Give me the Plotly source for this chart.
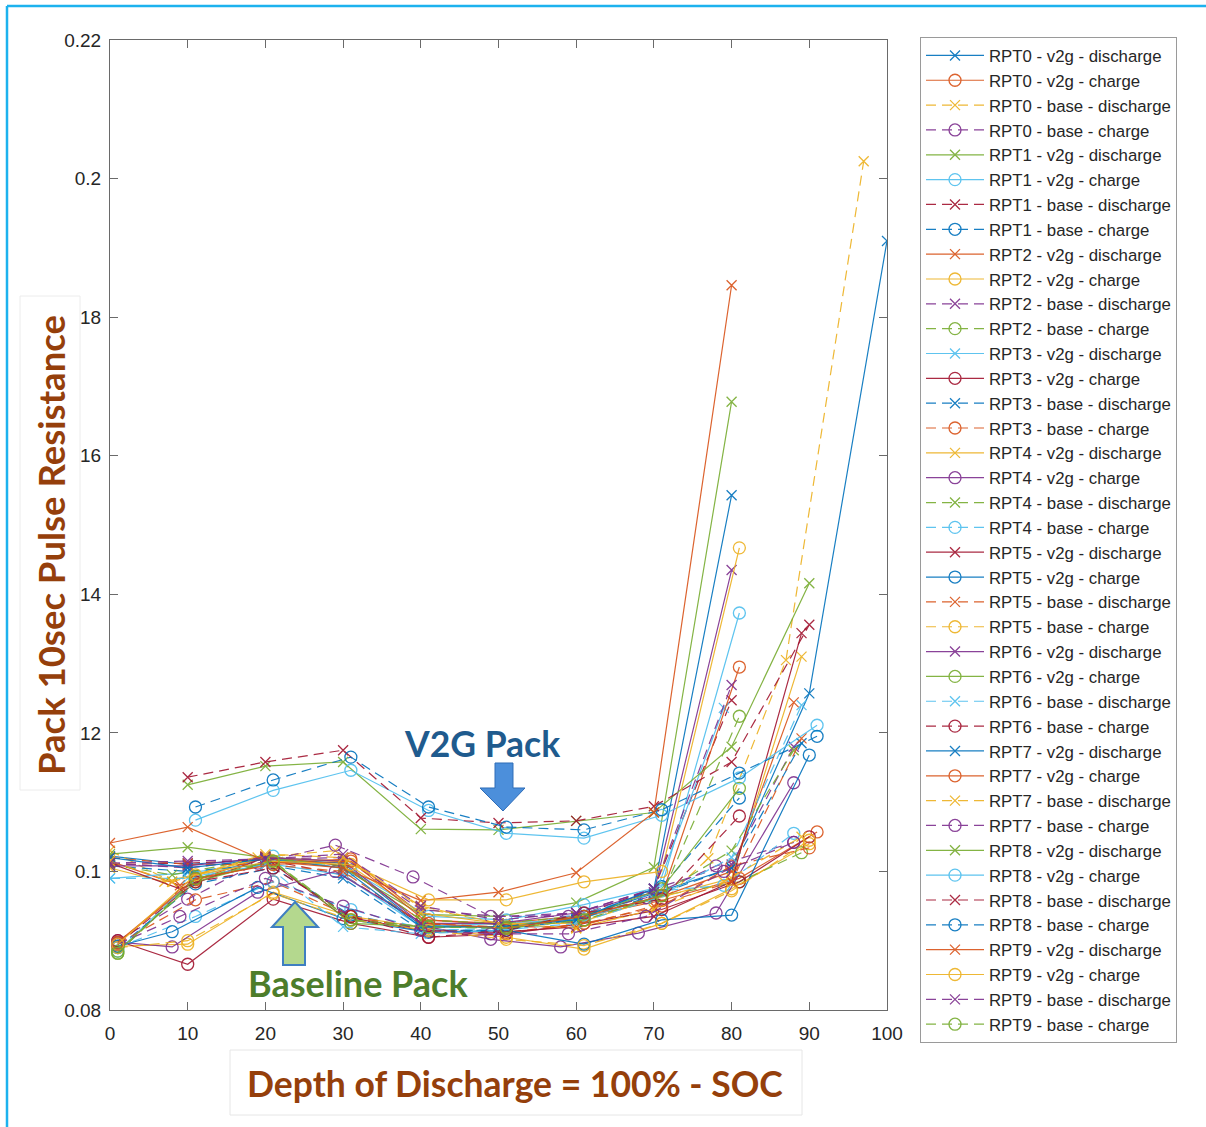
import plotly.graph_objects as go

# ---------------- data ----------------
rpt0_v2g_dis_x = [0, 10, 20, 30, 40, 50, 60, 70, 80, 90, 100]
rpt0_v2g_dis_y = [0.1022, 0.1010, 0.1018, 0.1012, 0.0922, 0.0920, 0.0932, 0.0968, 0.1005, 0.1257, 0.1910]
rpt0_v2g_chg_x = [1, 11, 21, 31, 41, 51, 61, 71, 81, 91]
rpt0_v2g_chg_y = [0.0897, 0.0988, 0.1012, 0.1018, 0.0930, 0.0922, 0.0935, 0.0958, 0.0990, 0.1057]
rpt0_base_dis_x = [0, 8, 19, 29, 40, 50, 60, 70, 77, 87, 97]
rpt0_base_dis_y = [0.1030, 0.0985, 0.1020, 0.1030, 0.0948, 0.0925, 0.0918, 0.0945, 0.1019, 0.1305, 0.2025]
rpt0_base_chg_x = [1, 10, 19, 29, 39, 49, 59, 69, 78, 88]
rpt0_base_chg_y = [0.0900, 0.0960, 0.1012, 0.1038, 0.0992, 0.0935, 0.0935, 0.0962, 0.1008, 0.1042]

rpt1_v2g_dis_x = [0, 10, 20, 30, 40, 50, 60, 70, 80]
rpt1_v2g_dis_y = [0.1025, 0.1035, 0.1020, 0.1005, 0.0938, 0.0935, 0.0955, 0.1006, 0.1678]
rpt1_v2g_chg_x = [1, 11, 21, 31, 41, 51, 61, 71, 81]
rpt1_v2g_chg_y = [0.0885, 0.0992, 0.1022, 0.1002, 0.0935, 0.0930, 0.0952, 0.0978, 0.1373]
rpt1_base_dis_x = [0, 10, 20, 30, 40, 50, 60, 70, 80]
rpt1_base_dis_y = [0.1010, 0.1012, 0.1017, 0.0995, 0.0925, 0.0918, 0.0935, 0.0975, 0.1247]
rpt1_base_chg_x = [1, 11, 21, 31, 41, 51, 61, 71, 81]
rpt1_base_chg_y = [0.0890, 0.0982, 0.1005, 0.0937, 0.0915, 0.0915, 0.0935, 0.0978, 0.1106]

rpt2_v2g_dis_x = [0, 9, 20, 30, 40, 50, 60, 70, 80, 88]
rpt2_v2g_dis_y = [0.1015, 0.0980, 0.1022, 0.1008, 0.0930, 0.0925, 0.0935, 0.0960, 0.1000, 0.1244]
rpt2_v2g_chg_x = [1, 10, 21, 31, 41, 51, 61, 71, 80, 90]
rpt2_v2g_chg_y = [0.0892, 0.0895, 0.0970, 0.0935, 0.0918, 0.0905, 0.0888, 0.0925, 0.0975, 0.1040]
rpt2_base_dis_x = [0, 10, 20, 30, 40, 50, 60, 70, 80, 88]
rpt2_base_dis_y = [0.1012, 0.1005, 0.1018, 0.1020, 0.0945, 0.0935, 0.0940, 0.0975, 0.1010, 0.1180]
rpt2_base_chg_x = [1, 11, 21, 31, 41, 51, 61, 71, 81, 89]
rpt2_base_chg_y = [0.0882, 0.0990, 0.1012, 0.0930, 0.0920, 0.0918, 0.0930, 0.0965, 0.0985, 0.1027]

rpt3_v2g_dis_x = [0, 10, 20, 30, 40, 50, 60, 70, 79]
rpt3_v2g_dis_y = [0.0990, 0.0998, 0.1012, 0.0995, 0.0920, 0.0925, 0.0930, 0.0962, 0.1236]
rpt3_v2g_chg_x = [1, 10, 21, 31, 41, 51, 61, 71, 81, 90]
rpt3_v2g_chg_y = [0.0900, 0.0866, 0.0960, 0.0925, 0.0905, 0.0910, 0.0925, 0.0945, 0.0985, 0.1050]
rpt3_base_dis_x = [0, 10, 20, 30, 40, 50, 60, 70, 80, 89]
rpt3_base_dis_y = [0.1008, 0.1000, 0.1010, 0.0990, 0.0915, 0.0915, 0.0930, 0.0965, 0.1005, 0.1185]
rpt3_base_chg_x = [1, 11, 21, 31, 41, 51, 61, 71, 80, 90]
rpt3_base_chg_y = [0.0895, 0.0959, 0.0985, 0.0935, 0.0915, 0.0912, 0.0925, 0.0950, 0.1008, 0.1034]

rpt4_v2g_dis_x = [0, 7, 20, 30, 40, 50, 60, 70, 80, 89]
rpt4_v2g_dis_y = [0.1005, 0.0985, 0.1020, 0.1015, 0.0940, 0.0925, 0.0925, 0.0960, 0.0990, 0.1310]
rpt4_v2g_chg_x = [1, 8, 19, 29, 41, 49, 58, 68, 78, 88]
rpt4_v2g_chg_y = [0.0898, 0.0891, 0.0970, 0.1000, 0.0920, 0.0902, 0.0891, 0.0911, 0.0940, 0.1128]
rpt4_base_dis_x = [0, 8, 20, 30, 40, 50, 60, 70, 80, 88]
rpt4_base_dis_y = [0.1010, 0.0995, 0.1020, 0.1008, 0.0930, 0.0925, 0.0935, 0.0962, 0.1030, 0.1175]
rpt4_base_chg_x = [1, 11, 21, 31, 41, 51, 61, 71, 79, 88]
rpt4_base_chg_y = [0.0890, 0.0935, 0.0985, 0.0945, 0.0915, 0.0918, 0.0940, 0.0972, 0.0980, 0.1055]

rpt5_v2g_dis_x = [0, 9, 20, 30, 40, 50, 60, 70, 80, 89]
rpt5_v2g_dis_y = [0.1012, 0.0975, 0.1020, 0.0935, 0.0915, 0.0912, 0.0920, 0.0935, 0.0985, 0.1344]
rpt5_v2g_chg_x = [1, 8, 19, 30, 41, 51, 61, 71, 80, 90]
rpt5_v2g_chg_y = [0.0892, 0.0913, 0.0977, 0.0932, 0.0912, 0.0915, 0.0895, 0.0930, 0.0937, 0.1168]
rpt5_base_dis_x = [0, 10, 20, 30, 40, 50, 60, 70, 80, 89]
rpt5_base_dis_y = [0.1020, 0.1010, 0.1010, 0.1000, 0.0925, 0.0920, 0.0920, 0.0950, 0.0985, 0.1192]
rpt5_base_chg_x = [1, 10, 21, 31, 41, 51, 61, 71, 80, 90]
rpt5_base_chg_y = [0.0890, 0.0900, 0.0968, 0.0930, 0.0915, 0.0902, 0.0893, 0.0925, 0.0972, 0.1045]

rpt6_v2g_dis_x = [0, 10, 20, 30, 40, 50, 60, 70, 80]
rpt6_v2g_dis_y = [0.1008, 0.1008, 0.1020, 0.1015, 0.0925, 0.0925, 0.0940, 0.0970, 0.1435]
rpt6_v2g_chg_x = [1, 11, 21, 31, 41, 51, 61, 71, 81]
rpt6_v2g_chg_y = [0.0885, 0.0985, 0.1015, 0.0925, 0.0920, 0.0920, 0.0935, 0.0975, 0.1120]
rpt6_base_dis_x = [0, 10, 20, 30, 40, 50, 60, 70, 80, 89]
rpt6_base_dis_y = [0.0990, 0.0990, 0.1010, 0.0920, 0.0910, 0.0915, 0.0925, 0.0960, 0.1020, 0.1240]
rpt6_base_chg_x = [1, 11, 21, 31, 41, 51, 61, 71, 81]
rpt6_base_chg_y = [0.0895, 0.0985, 0.1005, 0.0935, 0.0905, 0.0915, 0.0940, 0.0960, 0.1080]

rpt7_v2g_dis_x = [0, 10, 20, 30, 40, 50, 60, 70, 80]
rpt7_v2g_dis_y = [0.1020, 0.1005, 0.1018, 0.1005, 0.0920, 0.0920, 0.0930, 0.0975, 0.1543]
rpt7_v2g_chg_x = [1, 11, 21, 31, 41, 51, 61, 71, 81]
rpt7_v2g_chg_y = [0.0898, 0.0990, 0.1010, 0.1015, 0.0925, 0.0918, 0.0935, 0.0965, 0.1295]
rpt7_base_dis_x = [0, 8, 20, 30, 40, 50, 60, 70, 79, 89]
rpt7_base_dis_y = [0.1015, 0.0985, 0.1025, 0.1020, 0.0950, 0.0925, 0.0918, 0.0945, 0.0985, 0.1050]
rpt7_base_chg_x = [1, 9, 20, 30, 40, 49, 59, 69, 79, 88]
rpt7_base_chg_y = [0.0895, 0.0935, 0.0990, 0.0950, 0.0915, 0.0910, 0.0910, 0.0935, 0.1000, 0.1042]

rpt8_v2g_dis_x = [10, 20, 30, 40, 50, 60, 70, 80, 90]
rpt8_v2g_dis_y = [0.1125, 0.1152, 0.1158, 0.1061, 0.1060, 0.1073, 0.1085, 0.1180, 0.1416]
rpt8_v2g_chg_x = [11, 21, 31, 41, 51, 61, 71, 81, 91]
rpt8_v2g_chg_y = [0.1074, 0.1117, 0.1146, 0.1088, 0.1055, 0.1048, 0.1081, 0.1135, 0.1211]
rpt8_base_dis_x = [10, 20, 30, 40, 50, 60, 70, 80, 90]
rpt8_base_dis_y = [0.1136, 0.1158, 0.1175, 0.1077, 0.1070, 0.1073, 0.1094, 0.1158, 0.1356]
rpt8_base_chg_x = [11, 21, 31, 41, 51, 61, 71, 81, 91]
rpt8_base_chg_y = [0.1093, 0.1132, 0.1165, 0.1093, 0.1064, 0.1060, 0.1089, 0.1142, 0.1195]

rpt9_v2g_dis_x = [0, 10, 20, 30, 40, 50, 60, 70, 80]
rpt9_v2g_dis_y = [0.1041, 0.1064, 0.1015, 0.1005, 0.0958, 0.0970, 0.0998, 0.1085, 0.1846]
rpt9_v2g_chg_x = [1, 11, 21, 31, 41, 51, 61, 71, 81]
rpt9_v2g_chg_y = [0.0895, 0.0995, 0.1015, 0.1010, 0.0959, 0.0959, 0.0985, 0.1000, 0.1467]
rpt9_base_dis_x = [0, 10, 20, 30, 40, 50, 60, 70, 80]
rpt9_base_dis_y = [0.1012, 0.1015, 0.1018, 0.1025, 0.0950, 0.0930, 0.0940, 0.0975, 0.1269]
rpt9_base_chg_x = [1, 11, 21, 31, 41, 51, 61, 71, 81]
rpt9_base_chg_y = [0.0882, 0.0990, 0.1015, 0.0930, 0.0920, 0.0918, 0.0930, 0.0965, 0.1224]

y_tick_values = [0.08, 0.10, 0.12, 0.14, 0.16, 0.18, 0.20, 0.22]
y_tick_labels = ["0.08", "0.1", "12", "14", "16", "18", "0.2", "0.22"]
x_tick_values = [0, 10, 20, 30, 40, 50, 60, 70, 80, 90, 100]

series = [
    ("RPT0 - v2g - discharge", rpt0_v2g_dis_x, rpt0_v2g_dis_y),
    ("RPT0 - v2g - charge", rpt0_v2g_chg_x, rpt0_v2g_chg_y),
    ("RPT0 - base - discharge", rpt0_base_dis_x, rpt0_base_dis_y),
    ("RPT0 - base - charge", rpt0_base_chg_x, rpt0_base_chg_y),
    ("RPT1 - v2g - discharge", rpt1_v2g_dis_x, rpt1_v2g_dis_y),
    ("RPT1 - v2g - charge", rpt1_v2g_chg_x, rpt1_v2g_chg_y),
    ("RPT1 - base - discharge", rpt1_base_dis_x, rpt1_base_dis_y),
    ("RPT1 - base - charge", rpt1_base_chg_x, rpt1_base_chg_y),
    ("RPT2 - v2g - discharge", rpt2_v2g_dis_x, rpt2_v2g_dis_y),
    ("RPT2 - v2g - charge", rpt2_v2g_chg_x, rpt2_v2g_chg_y),
    ("RPT2 - base - discharge", rpt2_base_dis_x, rpt2_base_dis_y),
    ("RPT2 - base - charge", rpt2_base_chg_x, rpt2_base_chg_y),
    ("RPT3 - v2g - discharge", rpt3_v2g_dis_x, rpt3_v2g_dis_y),
    ("RPT3 - v2g - charge", rpt3_v2g_chg_x, rpt3_v2g_chg_y),
    ("RPT3 - base - discharge", rpt3_base_dis_x, rpt3_base_dis_y),
    ("RPT3 - base - charge", rpt3_base_chg_x, rpt3_base_chg_y),
    ("RPT4 - v2g - discharge", rpt4_v2g_dis_x, rpt4_v2g_dis_y),
    ("RPT4 - v2g - charge", rpt4_v2g_chg_x, rpt4_v2g_chg_y),
    ("RPT4 - base - discharge", rpt4_base_dis_x, rpt4_base_dis_y),
    ("RPT4 - base - charge", rpt4_base_chg_x, rpt4_base_chg_y),
    ("RPT5 - v2g - discharge", rpt5_v2g_dis_x, rpt5_v2g_dis_y),
    ("RPT5 - v2g - charge", rpt5_v2g_chg_x, rpt5_v2g_chg_y),
    ("RPT5 - base - discharge", rpt5_base_dis_x, rpt5_base_dis_y),
    ("RPT5 - base - charge", rpt5_base_chg_x, rpt5_base_chg_y),
    ("RPT6 - v2g - discharge", rpt6_v2g_dis_x, rpt6_v2g_dis_y),
    ("RPT6 - v2g - charge", rpt6_v2g_chg_x, rpt6_v2g_chg_y),
    ("RPT6 - base - discharge", rpt6_base_dis_x, rpt6_base_dis_y),
    ("RPT6 - base - charge", rpt6_base_chg_x, rpt6_base_chg_y),
    ("RPT7 - v2g - discharge", rpt7_v2g_dis_x, rpt7_v2g_dis_y),
    ("RPT7 - v2g - charge", rpt7_v2g_chg_x, rpt7_v2g_chg_y),
    ("RPT7 - base - discharge", rpt7_base_dis_x, rpt7_base_dis_y),
    ("RPT7 - base - charge", rpt7_base_chg_x, rpt7_base_chg_y),
    ("RPT8 - v2g - discharge", rpt8_v2g_dis_x, rpt8_v2g_dis_y),
    ("RPT8 - v2g - charge", rpt8_v2g_chg_x, rpt8_v2g_chg_y),
    ("RPT8 - base - discharge", rpt8_base_dis_x, rpt8_base_dis_y),
    ("RPT8 - base - charge", rpt8_base_chg_x, rpt8_base_chg_y),
    ("RPT9 - v2g - discharge", rpt9_v2g_dis_x, rpt9_v2g_dis_y),
    ("RPT9 - v2g - charge", rpt9_v2g_chg_x, rpt9_v2g_chg_y),
    ("RPT9 - base - discharge", rpt9_base_dis_x, rpt9_base_dis_y),
    ("RPT9 - base - charge", rpt9_base_chg_x, rpt9_base_chg_y),
]

# MATLAB default colour order
palette = ["#0072BD", "#D95319", "#EDB120", "#7E2F8E", "#77AC30", "#4DBEEE", "#A2142F"]

fig = go.Figure()
for i, (name, xs, ys) in enumerate(series):
    color = palette[i % 7]
    is_charge = name.endswith("charge") and not name.endswith("discharge")
    is_base = " base " in name
    fig.add_trace(go.Scatter(
        x=xs, y=ys, name=name, mode="lines+markers",
        line=dict(color=color, width=1.2, dash="10px,6px" if is_base else "solid"),
        marker=dict(symbol="circle-open" if is_charge else "x-thin-open",
                    size=12 if is_charge else 10,
                    color=color, line=dict(color=color, width=1.3)),
        opacity=0.9,
    ))

# ---------------- layout ----------------
L, T, R, B = 110, 40, 887, 1010   # plot area in px
W, H = 1206, 1127

def px(x, y):
    return ((x - L) / (R - L), (B - y) / (B - T))

def path(points):
    pts = [px(a, b) for a, b in points]
    return "M" + " L".join(f"{a:.5f},{b:.5f}" for a, b in pts) + " Z"

axis_common = dict(showgrid=False, zeroline=False, showline=True, linecolor="#6a6a6a",
                   linewidth=1, mirror="ticks", ticks="inside", ticklen=8,
                   tickcolor="#6a6a6a", tickfont=dict(family="Liberation Sans, Arial", size=19, color="#262626"))

fig.update_layout(
    width=W, height=H, autosize=False,
    margin=dict(l=L, r=W - R, t=T, b=H - B),
    paper_bgcolor="white", plot_bgcolor="white",
    xaxis=dict(range=[0, 100], tickvals=x_tick_values, ticklabelstandoff=6, **axis_common),
    yaxis=dict(range=[0.08, 0.22], tickvals=y_tick_values, ticktext=y_tick_labels,
               ticklabelstandoff=4, **axis_common),
    showlegend=True,
    legend=dict(x=px(920, 0)[0], y=px(0, 37)[1], xanchor="left", yanchor="top",
                bordercolor="#9a9a9a", borderwidth=1, bgcolor="white",
                font=dict(family="Liberation Sans, Arial", size=16.8, color="#262626"),
                tracegroupgap=0, itemwidth=58, maxheight=1080),
)

shapes = []
# cyan page frame
x0, y0 = px(7, 6)
x1, y1 = px(1210, 1130)
shapes.append(dict(type="line", xref="paper", yref="paper", x0=x0, y0=y0, x1=x0, y1=y1,
                   line=dict(color="#1DB2EE", width=2.5)))
shapes.append(dict(type="line", xref="paper", yref="paper", x0=x0, y0=y0, x1=x1, y1=y0,
                   line=dict(color="#1DB2EE", width=2.5)))
# y-title box
a0, b0 = px(20, 296); a1, b1 = px(80, 790)
shapes.append(dict(type="rect", xref="paper", yref="paper", x0=a0, y0=b1, x1=a1, y1=b0,
                   fillcolor="white", line=dict(color="#ececec", width=1), layer="above"))
# x-title box
a0, b0 = px(230, 1050); a1, b1 = px(802, 1115)
shapes.append(dict(type="rect", xref="paper", yref="paper", x0=a0, y0=b1, x1=a1, y1=b0,
                   fillcolor="white", line=dict(color="#e6e6e6", width=1), layer="above"))
# blue down arrow (V2G Pack)
shapes.append(dict(type="path", xref="paper", yref="paper",
                   path=path([(495, 763), (513, 763), (513, 788), (525, 788), (503, 811),
                              (480, 788), (495, 788)]),
                   fillcolor="#4C8FDB", line=dict(color="#2F6DB8", width=1), layer="above"))
# green up arrow (Baseline Pack)
shapes.append(dict(type="path", xref="paper", yref="paper",
                   path=path([(295, 902), (318, 927), (305, 927), (305, 965), (283, 965),
                              (283, 927), (272, 927)]),
                   fillcolor="#B4D88E", line=dict(color="#3F7FC1", width=2), layer="above"))
fig.update_layout(shapes=shapes)

title_font = "Lato, Open Sans, sans-serif"
ann = []
cx, cy = px(51, 545)
ann.append(dict(x=cx, y=cy, xref="paper", yref="paper", text="<b>Pack 10sec Pulse Resistance</b>",
                textangle=-90, showarrow=False, xanchor="center", yanchor="middle",
                font=dict(family=title_font, size=36.5, color="#953F0B")))
cx, cy = px(515, 1083)
ann.append(dict(x=cx, y=cy, xref="paper", yref="paper", text="<b>Depth of Discharge = 100% - SOC</b>",
                showarrow=False, xanchor="center", yanchor="middle",
                font=dict(family=title_font, size=35.5, color="#953F0B")))
cx, cy = px(482, 743)
ann.append(dict(x=cx, y=cy, xref="paper", yref="paper", text="<b>V2G Pack</b>",
                showarrow=False, xanchor="center", yanchor="middle",
                font=dict(family=title_font, size=35.5, color="#1F5B8E")))
cx, cy = px(358, 983)
ann.append(dict(x=cx, y=cy, xref="paper", yref="paper", text="<b>Baseline Pack</b>",
                showarrow=False, xanchor="center", yanchor="middle",
                font=dict(family=title_font, size=36, color="#4D7D2B")))
fig.update_layout(annotations=ann)

fig.write_html("out.html")
